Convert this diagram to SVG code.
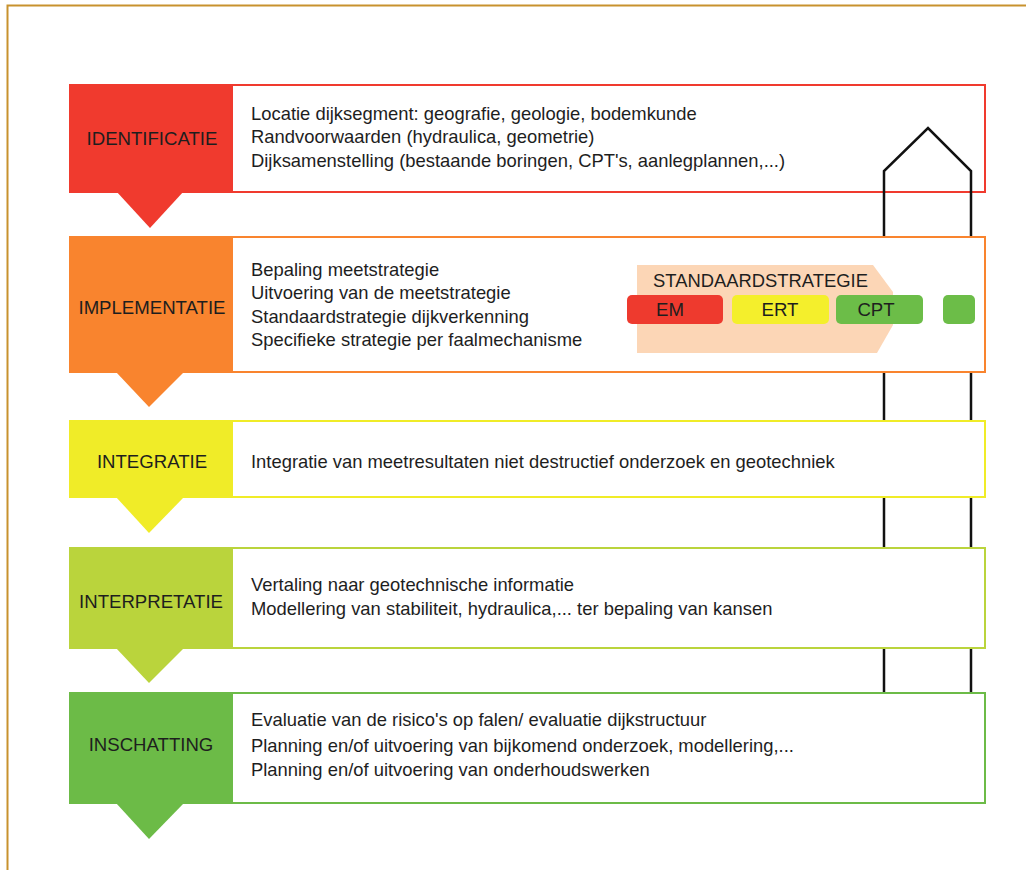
<svg xmlns="http://www.w3.org/2000/svg" width="1026" height="870" viewBox="0 0 1026 870">
<style>
.lbl{font-family:"Liberation Sans",Arial,sans-serif;font-size:18.6px;fill:#1e1e1e;text-anchor:middle}
.txt{font-family:"Liberation Sans",Arial,sans-serif;font-size:18.4px;fill:#1e1e1e}
.box{fill:#ffffff;stroke-width:2}
.flow{fill:none;stroke:#111;stroke-width:2.5}
</style>
<rect width="1026" height="870" fill="#ffffff"/>
<path d="M7.5,870 V5.5 H1026" fill="none" stroke="#c8922e" stroke-width="2"/>

<g id="identificatie">
<rect class="box" x="70" y="85" width="915" height="107" stroke="#f03a2e"/>
<rect x="70" y="84" width="163" height="108" fill="#f03a2e"/>
<polygon points="116,191 184,191 150,228" fill="#f03a2e"/>
<text class="lbl" x="152" y="145">IDENTIFICATIE</text>
<text class="txt" x="251" y="120">Locatie dijksegment: geografie, geologie, bodemkunde</text>
<text class="txt" x="251" y="143">Randvoorwaarden (hydraulica, geometrie)</text>
<text class="txt" x="251" y="167">Dijksamenstelling (bestaande boringen, CPT's, aanlegplannen,...)</text>
</g>

<g id="flow-arrow" class="connectors">
<path class="flow" d="M884,692 V171 L928,128 L971,171 V692"/>
</g>

<g id="implementatie">
<rect class="box" x="70" y="237" width="915" height="135" stroke="#f9842e"/>
<rect x="70" y="236" width="163" height="137" fill="#f9842e"/>
<polygon points="116,372 184,372 149,407" fill="#f9842e"/>
<text class="lbl" x="152" y="314">IMPLEMENTATIE</text>
<text class="txt" x="251" y="276">Bepaling meetstrategie</text>
<text class="txt" x="251" y="299">Uitvoering van de meetstrategie</text>
<text class="txt" x="251" y="323">Standaardstrategie dijkverkenning</text>
<text class="txt" x="251" y="346">Specifieke strategie per faalmechanisme</text>
</g>

<g id="standaardstrategie">
<polygon points="637,265 873,265 893,292 893,325 877,353 637,353" fill="#fcd6b6"/>
<text class="txt" x="653" y="287">STANDAARDSTRATEGIE</text>
</g>
<g id="em">
<rect x="627" y="295" width="96" height="29" rx="5" fill="#ee3a2e"/>
<text class="lbl" x="670" y="316">EM</text>
</g>
<g id="ert">
<rect x="732" y="295" width="97" height="29" rx="5" fill="#f4ef2c"/>
<text class="lbl" x="780" y="316">ERT</text>
</g>
<g id="cpt">
<rect x="836" y="295" width="87" height="29" rx="5" fill="#6cbd48"/>
<text class="lbl" x="876" y="316">CPT</text>
</g>
<g id="extra">
<rect x="943" y="295" width="32" height="29" rx="5" fill="#6cbd48"/>
</g>

<g id="integratie">
<rect class="box" x="70" y="421" width="915" height="76" stroke="#f0ec28"/>
<rect x="70" y="420" width="163" height="78" fill="#f0ec28"/>
<polygon points="116,497 184,497 149,533" fill="#f0ec28"/>
<text class="lbl" x="152" y="468">INTEGRATIE</text>
<text class="txt" x="251" y="468">Integratie van meetresultaten niet destructief onderzoek en geotechniek</text>
</g>

<g id="interpretatie">
<rect class="box" x="70" y="548" width="915" height="100" stroke="#bad43c"/>
<rect x="70" y="547" width="163" height="102" fill="#bad43c"/>
<polygon points="116,648 184,648 149,683" fill="#bad43c"/>
<text class="lbl" x="151" y="608">INTERPRETATIE</text>
<text class="txt" x="251" y="591">Vertaling naar geotechnische informatie</text>
<text class="txt" x="251" y="615">Modellering van stabiliteit, hydraulica,... ter bepaling van kansen</text>
</g>

<g id="inschatting">
<rect class="box" x="70" y="693" width="915" height="110" stroke="#6cbb47"/>
<rect x="70" y="692" width="163" height="112" fill="#6cbb47"/>
<polygon points="116,803 184,803 149,839" fill="#6cbb47"/>
<text class="lbl" x="151" y="751">INSCHATTING</text>
<text class="txt" x="251" y="726">Evaluatie van de risico's op falen/ evaluatie dijkstructuur</text>
<text class="txt" x="251" y="752">Planning en/of uitvoering van bijkomend onderzoek, modellering,...</text>
<text class="txt" x="251" y="776">Planning en/of uitvoering van onderhoudswerken</text>
</g>
</svg>
